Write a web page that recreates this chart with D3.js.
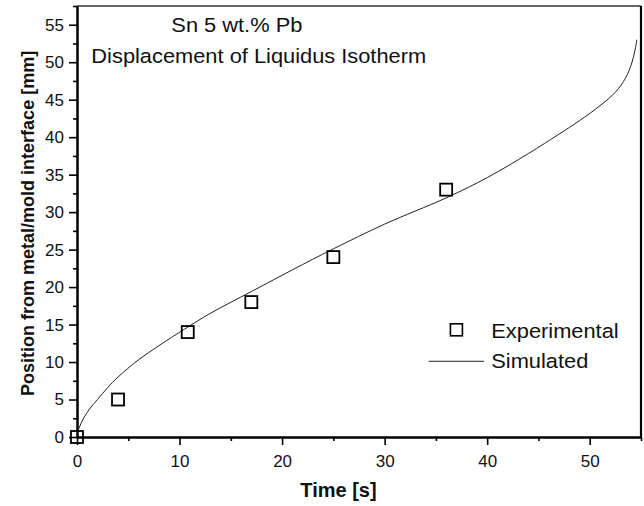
<!DOCTYPE html>
<html>
<head>
<meta charset="utf-8">
<script src="https://cdn.jsdelivr.net/npm/d3@7"></script>
<style>
  body { margin: 0; background: #fff; }
  text { font-family: "Liberation Sans", Arial, sans-serif; fill: #111; }
</style>
</head>
<body>
<div id="chart"></div>
<script>
// Sn 5 wt.% Pb - liquidus isotherm displacement

const expTime = [0, 4, 10.8, 17, 25, 36];
const expPos = [0, 5, 14, 18, 24, 33];

const simTime = [0, 0.2, 0.6, 1.2, 2, 3, 4, 6, 8, 10.5, 13, 17, 21, 25, 30, 36, 40, 44, 47, 49, 51, 52.5, 53.5, 54.1, 54.4, 54.6];
const simPos = [0.3, 1.2, 2.4, 3.7, 5.0, 6.6, 8.0, 10.3, 12.2, 14.4, 16.5, 19.4, 22.3, 25.1, 28.4, 31.9, 34.6, 37.8, 40.4, 42.2, 44.2, 46.0, 47.9, 49.9, 51.5, 53.0];

const xMajor = [0, 10, 20, 30, 40, 50];
const xMinor = [5, 15, 25, 35, 45, 55];
const yMajor = [0, 5, 10, 15, 20, 25, 30, 35, 40, 45, 50, 55];
const yMinor = [2.5, 7.5, 12.5, 17.5, 22.5, 27.5, 32.5, 37.5, 42.5, 47.5, 52.5, 57.5];

const notes = ["Sn 5 wt.% Pb", "Displacement of Liquidus Isotherm"];
const legendLabels = ["Experimental", "Simulated"];

const W = 644, H = 506;
const m = { left: 77, right: 3, top: 6, bottom: 69 };
const w = W - m.left - m.right, h = H - m.top - m.bottom;
const stretch = 1.12; // the scanned lettering is a bit wide

const svg = d3.select("#chart").append("svg")
    .attr("width", W).attr("height", H);
const g = svg.append("g").attr("transform", `translate(${m.left},${m.top})`);

let x = d3.scaleLinear().domain([0, 55]).range([0, w]);
let y = d3.scaleLinear().domain([0, 57.5]).range([h, 0]);

// frame (top and right)
g.append("line").attr("x1", 0).attr("x2", w).attr("y1", 0).attr("y2", 0)
    .attr("stroke", "#333").attr("stroke-width", 1.5);
g.append("line").attr("x1", w).attr("x2", w).attr("y1", 0).attr("y2", h)
    .attr("stroke", "#000").attr("stroke-width", 2.2);

// axes
function styleAxis(sel) {
  sel.select(".domain").attr("stroke", "#000").attr("stroke-width", 2);
  sel.selectAll(".tick line").attr("stroke", "#000").attr("stroke-width", 1.6);
  sel.selectAll(".tick text").style("font-size", "17px").attr("fill", "#111");
}

g.append("g").attr("transform", `translate(0,${h})`)
    .call(d3.axisBottom(x).tickValues(xMinor).tickSize(4).tickSizeOuter(0).tickFormat(""))
    .call(styleAxis);
g.append("g").attr("transform", `translate(0,${h})`)
    .call(d3.axisBottom(x).tickValues(xMajor).tickSize(8).tickSizeOuter(0).tickPadding(10).tickFormat(d3.format("d")))
    .call(styleAxis);

g.append("g")
    .call(d3.axisLeft(y).tickValues(yMinor).tickSize(4).tickSizeOuter(0).tickFormat(""))
    .call(styleAxis);
g.append("g")
    .call(d3.axisLeft(y).tickValues(yMajor).tickSize(8).tickSizeOuter(0).tickPadding(5).tickFormat(d3.format("d")))
    .call(styleAxis);

// axis titles
svg.append("text")
    .attr("x", m.left + x(25.5)).attr("y", 497)
    .attr("text-anchor", "middle")
    .style("font-size", "20px").style("font-weight", "bold")
    .text("Time [s]");
svg.append("text")
    .attr("transform", `translate(34,${m.top + y(28.5)}) rotate(-90)`)
    .attr("text-anchor", "middle")
    .style("font-size", "18px").style("font-weight", "bold")
    .text("Position from metal/mold interface [mm]");

// simulated curve
let sim = simTime.map((t, i) => ({ t: t, p: simPos[i] }));
let line = d3.line().x(d => x(d.t)).y(d => y(d.p)).curve(d3.curveCatmullRom);
g.append("path").datum(sim)
    .attr("d", line)
    .attr("fill", "none").attr("stroke", "#222").attr("stroke-width", 1);

// experimental squares
let exp = expTime.map((t, i) => ({ t: t, p: expPos[i] }));
const sq = 12;
g.selectAll("rect.exp").data(exp).enter().append("rect")
    .attr("class", "exp")
    .attr("x", d => x(d.t) - sq / 2).attr("y", d => y(d.p) - sq / 2)
    .attr("width", sq).attr("height", sq)
    .attr("fill", "none").attr("stroke", "#000").attr("stroke-width", 1.8);

// wide text helper
function wideText(tx, ty, size, str) {
  g.append("g").attr("transform", `translate(${tx},${ty}) scale(${stretch},1)`)
    .append("text").style("font-size", size + "px").text(str);
}

// annotations
wideText(x(9.2), y(54.0), 19.5, notes[0]);
wideText(x(1.4), y(49.9), 19.5, notes[1]);

// legend
g.append("rect")
    .attr("x", x(37.0) - 6).attr("y", y(14.3) - 6)
    .attr("width", 12).attr("height", 12)
    .attr("fill", "none").attr("stroke", "#000").attr("stroke-width", 1.6);
wideText(x(40.4), y(13.2), 19.5, legendLabels[0]);
g.append("line")
    .attr("x1", x(34.3)).attr("x2", x(39.7))
    .attr("y1", y(10.1)).attr("y2", y(10.1))
    .attr("stroke", "#222").attr("stroke-width", 1);
wideText(x(40.4), y(9.2), 19.5, legendLabels[1]);
</script>
</body>
</html>
